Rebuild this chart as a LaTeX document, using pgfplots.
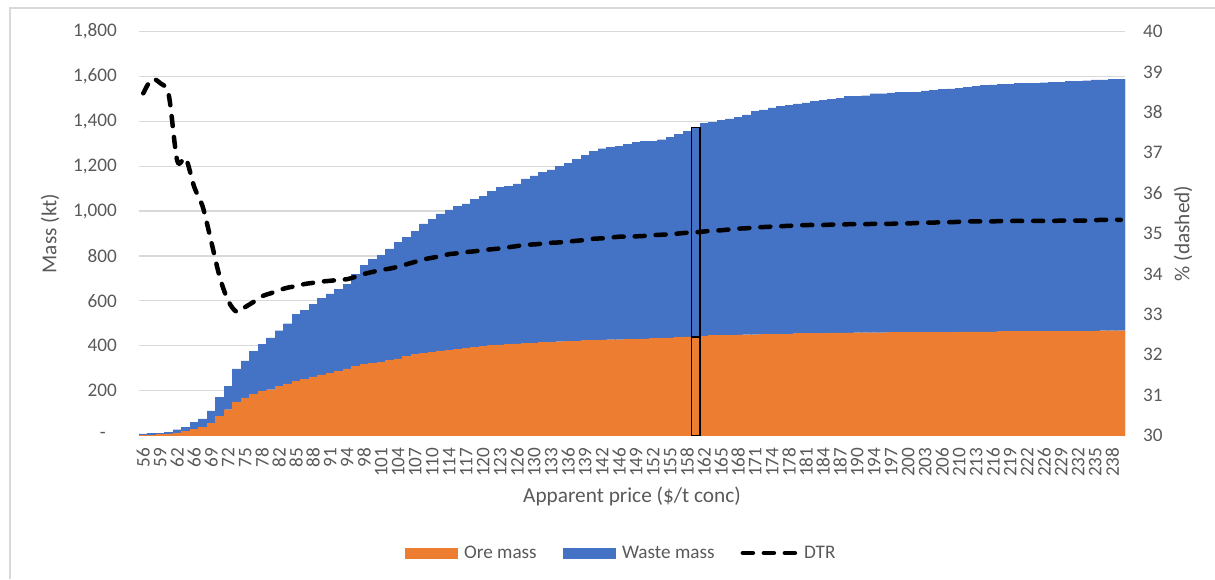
\documentclass[border=0pt]{standalone}
\usepackage{fontspec}
\setmainfont{Carlito}
\usepackage{pgfplots}
\usepackage{pgfplotstable}
\pgfplotsset{compat=1.18}
\definecolor{ore}{HTML}{ED7D31}
\definecolor{waste}{HTML}{4472C4}
\definecolor{gridc}{HTML}{D9D9D9}
\definecolor{txt}{HTML}{595959}

\pgfplotstableread{
k ore waste dtr
0 1 6 38.47
1 2 8 38.82
2 4 7 38.72
3 7 8 38.43
4 12 14 36.80
5 18 17 36.86
6 27 32 36.15
7 37 37 35.66
8 54 56 34.80
9 85 84 33.92
10 115 105 33.33
11 150 147 33.06
12 168 164 33.18
13 183 191 33.31
14 196 210 33.45
15 204 231 33.52
16 218 249 33.60
17 230 268 33.66
18 241 298 33.70
19 249 308 33.75
20 261 324 33.78
21 270 342 33.81
22 278 353 33.83
23 286 366 33.85
24 297 377 33.87
25 307 412 33.93
26 316 443 34.00
27 321 464 34.05
28 326 476 34.10
29 334 498 34.13
30 341 521 34.18
31 352 532 34.24
32 361 550 34.30
33 366 577 34.36
34 371 593 34.40
35 377 611 34.44
36 380 625 34.49
37 384 636 34.51
38 389 643 34.54
39 393 658 34.56
40 398 668 34.59
41 401 686 34.61
42 404 701 34.63
43 406 703 34.66
44 408 713 34.69
45 411 732 34.72
46 412 745 34.73
47 414 759 34.75
48 415 769 34.77
49 418 781 34.78
50 420 794 34.80
51 421 809 34.82
52 423 825 34.84
53 424 843 34.87
54 426 852 34.88
55 427 857 34.90
56 427 862 34.92
57 429 868 34.92
58 429 877 34.93
59 430 880 34.94
60 432 880 34.96
61 433 885 34.97
62 435 894 34.98
63 436 905 35.00
64 439 916 35.02
65 439 935 35.03
66 443 949 35.05
67 445 951 35.07
68 445 959 35.08
69 446 965 35.10
70 448 970 35.12
71 449 980 35.13
72 449 996 35.15
73 451 1000 35.16
74 451 1009 35.17
75 452 1014 35.18
76 452 1020 35.19
77 454 1024 35.20
78 454 1028 35.21
79 455 1033 35.21
80 455 1038 35.21
81 457 1041 35.22
82 457 1046 35.22
83 457 1053 35.23
84 458 1054 35.23
85 458 1056 35.23
86 458 1065 35.24
87 458 1065 35.24
88 459 1067 35.24
89 459 1069 35.25
90 459 1071 35.25
91 460 1070 35.26
92 461 1074 35.27
93 461 1077 35.27
94 461 1080 35.28
95 461 1083 35.28
96 462 1085 35.29
97 462 1089 35.30
98 462 1095 35.30
99 462 1098 35.30
100 462 1100 35.30
101 463 1102 35.31
102 463 1102 35.31
103 463 1105 35.31
104 463 1106 35.31
105 464 1106 35.31
106 464 1108 35.31
107 464 1109 35.31
108 464 1111 35.32
109 465 1113 35.32
110 465 1113 35.32
111 465 1116 35.32
112 466 1118 35.33
113 467 1118 35.34
114 467 1120 35.34
115 467 1121 35.34
}\data

\pgfplotsset{
  common/.style={
    at={(139pt,143.5pt)}, anchor=south west,
    scale only axis, width=986pt, height=404pt,
    xmin=-0.5, xmax=115.5,
    major tick length=0pt,
    tick label style={font=\fontsize{19.2}{22}\selectfont, text=txt},
  },
}

\begin{document}
\begin{tikzpicture}[x=1pt,y=1pt]
\useasboundingbox (0,0) rectangle (1215,579);
\draw[gridc, line width=1.2pt] (10,0) -- (10,571) -- (1215,571);

\begin{axis}[common,
  ymin=0, ymax=1800,
  ybar stacked, bar width=1,
  axis x line*=bottom, axis y line*=left,
  x axis line style={draw=gridc, line width=1.5pt},
  y axis line style={draw=none},
  ymajorgrids, grid style={draw=gridc, line width=1.2pt},
  xtick={0,2,...,114},
  xticklabels={56,59,62,66,69,72,75,78,82,85,88,91,94,98,101,104,107,110,114,117,120,123,126,130,133,136,139,142,146,149,152,155,158,162,165,168,171,174,178,181,184,187,190,194,197,200,203,206,210,213,216,219,222,226,229,232,235,238},
  xticklabel style={rotate=90, anchor=east, inner sep=0pt},
  xticklabel shift=12pt,
  ytick={0,200,...,1800},
  yticklabels={{\makebox[17pt][l]{-}},200,400,600,800,{1,000},{1,200},{1,400},{1,600},{1,800}},
  yticklabel style={anchor=east, inner sep=0pt},
  yticklabel shift=22pt,
  every axis y label/.style={at={(axis description cs:-0.0903,0.5)}, rotate=90, anchor=center,
    font=\fontsize{21.3}{25}\selectfont, text=txt},
  ylabel={Mass (kt)},
  every axis x label/.style={at={(axis description cs:0.5,-0.152)}, anchor=center,
    font=\fontsize{21.3}{25}\selectfont, text=txt},
  xlabel={Apparent price (\$/t conc)},
  legend columns=3,
  legend style={draw=none, fill=none, at={(axis description cs:0.488,-0.291)}, anchor=center,
    font=\fontsize{19.2}{22}\selectfont, text=txt,
    nodes={inner sep=0pt},
    /tikz/every odd column/.append style={column sep=7pt},
    /tikz/every even column/.append style={column sep=26pt}},
]
\addplot[fill=ore, draw=ore, line width=0.3pt,
  legend image code/.code={\fill[ore] (0pt,-5pt) rectangle (52pt,5pt);}]
  table[x=k, y=ore]{\data};
\addlegendentry{Ore mass}
\addplot[fill=waste, draw=waste, line width=0.3pt,
  legend image code/.code={\fill[waste] (0pt,-5pt) rectangle (52pt,5pt);}]
  table[x=k, y=waste]{\data};
\addlegendentry{Waste mass}
\addlegendimage{legend image code/.code={\draw[black, line width=4.5pt, dash pattern=on 10pt off 11pt, line cap=round] (2.25pt,0pt) -- (54.25pt,0pt);}}
\addlegendentry{DTR}
\end{axis}

\begin{axis}[common,
  hide axis,
  ymin=0, ymax=1800,
  ybar stacked, bar width=1,
]
\addplot[fill=none, draw=black, line width=1.1pt] coordinates {(65,439)};
\addplot[fill=none, draw=black, line width=1.1pt] coordinates {(65,935)};
\end{axis}

\begin{axis}[common,
  ymin=30, ymax=40,
  axis x line=none, axis y line*=right,
  y axis line style={draw=none},
  ytick={30,31,...,40},
  yticklabels={30,31,32,33,34,35,36,37,38,39,40},
  yticklabel style={anchor=west, inner sep=0pt},
  yticklabel shift=18pt,
  every axis y label/.style={at={(axis description cs:1.0588,0.5)}, rotate=90, anchor=center,
    font=\fontsize{21.3}{25}\selectfont, text=txt},
  ylabel={\% (dashed)},
  clip=false,
]
\addplot[black, line width=4.5pt, dash pattern=on 10pt off 11pt, line cap=round, smooth]
  table[x=k, y=dtr]{\data};
\end{axis}
\end{tikzpicture}
\end{document}
